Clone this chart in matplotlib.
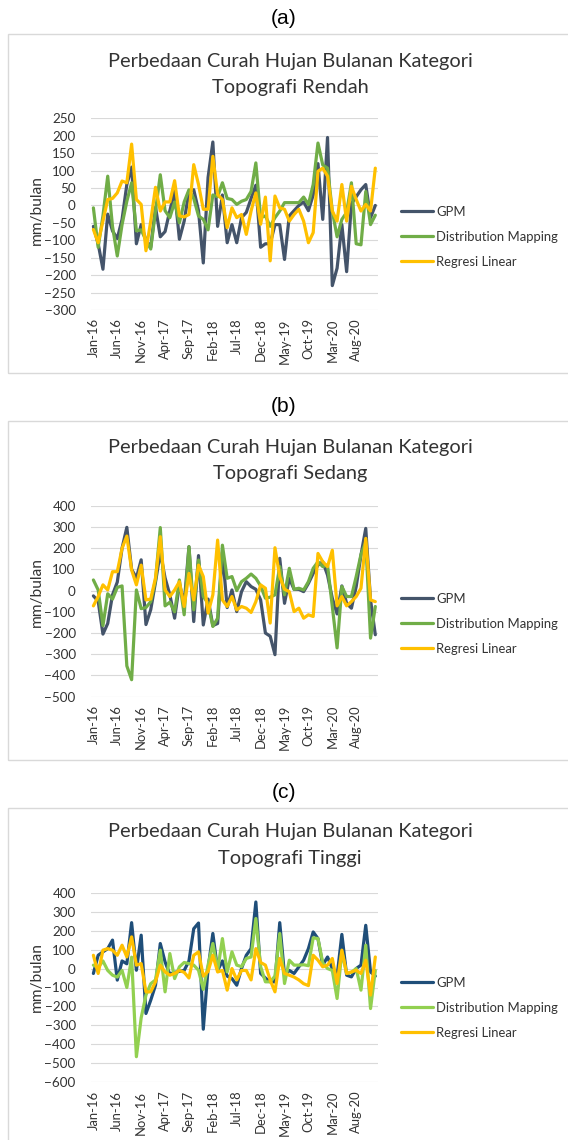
import numpy as np
import matplotlib.pyplot as plt
from matplotlib.patches import Rectangle

# months Jan-16 .. Dec-20
months = ['Jan', 'Feb', 'Mar', 'Apr', 'May', 'Jun', 'Jul', 'Aug', 'Sep', 'Oct', 'Nov', 'Dec']
categories = [m + '-' + y for y in ['16', '17', '18', '19', '20'] for m in months]
tick_labels = ['Jan-16', 'Jun-16', 'Nov-16', 'Apr-17', 'Sep-17', 'Feb-18',
               'Jul-18', 'Dec-18', 'May-19', 'Oct-19', 'Mar-20', 'Aug-20']

# (a) Topografi Rendah
gpm_a = [-60, -110, -183, -25, -73, -95, -40, 60, 110, -110, -55, -100, -120, -5, -90, -75, -15, 40, -97, -45,
         40, 45, -15, -165, 80, 182, -60, 30, -107, -55, -107, -35, -20, 20, 58, -120, -110, -110, -55, -55,
         -155, -30, -15, 0, 10, -15, 30, 120, -40, 195, -230, -180, -55, -190, 5, 25, 45, 60, -35, 0]
dm_a = [-7, -120, -30, 84, -60, -145, -55, 12, 65, -73, -70, -100, -125, -16, 88, -15, -35, 10, -50, 10,
        45, 20, -30, -40, -70, 30, 25, 65, 20, 17, 3, 12, 17, 40, 122, -35, -30, -60, -35, -16,
        8, 8, 8, 8, 24, 3, 60, 179, 116, 107, -16, -90, -40, -20, 65, -110, -113, 40, -55, -28]
rl_a = [-69, -107, -45, 17, 20, 36, 70, 65, 176, 17, 3, -130, -45, 52, -16, 10, 10, 71, -30, -33,
        -26, 117, 60, -11, -11, 141, 31, 17, -64, -7, -35, -26, -83, -16, 36, -54, 24, -159, 27, -7,
        -11, -45, -26, -11, -45, -107, -78, 98, 107, 84, -16, -45, 60, -45, 55, 17, -16, 3, -16, 107]

# (b) Topografi Sedang
gpm_b = [-25, -50, -205, -155, -20, 40, 200, 298, 100, 60, 145, -160, -90, 40, 180, 60, -20, -130, 30, -60,
         207, -146, 165, -162, -40, -165, -155, 180, -80, 3, -99, -5, 42, 19, 6, -44, -200, -215, -302, 152,
         -60, 58, 6, 6, -5, 34, 81, 120, 136, 73, -36, -110, 22, -60, -83, 19, 167, 293, -44, -208]
dm_b = [50, 3, -165, -15, -40, 15, 22, -355, -420, 3, -85, -80, -52, 50, 297, -72, -55, -100, 50, -114,
        207, -91, 144, -28, -60, -169, -130, 214, 58, 66, 0, 42, 58, 78, 58, 22, -36, -31, -20, 113,
        -20, 105, 6, 11, 3, 42, 105, 136, 113, 120, -75, -270, 19, -28, -28, 66, 170, 230, -224, -75]
rl_b = [-72, -28, 27, 3, 89, 89, 199, 257, 97, 27, 120, -44, -40, 60, 254, 3, -28, 3, 42, -75,
        81, -44, 120, 66, -106, -20, 238, -44, -75, -28, -91, -75, -83, -103, -52, 27, 11, -153, 202, 66,
        6, -5, -99, -83, -130, -114, -122, 175, 136, 113, 190, -72, -28, -72, -52, -28, 11, 246, -44, -52]

# (c) Topografi Tinggi
gpm_c = [-26, 70, 88, 105, 150, -61, 40, 25, 242, -9, 176, -237, -167, -88, 132, 35, -30, -20, -15, -10,
         40, 210, 240, -320, 0, 185, -10, 40, -40, -53, -88, 0, 70, 105, 351, -26, -50, -70, -70, 242,
         -35, -10, -26, 9, 44, 105, 193, 158, 18, 61, 0, -40, 180, -35, -44, 0, 18, 228, -18, -40]
dm_c = [18, 5, 40, -10, -35, -45, -10, -100, 60, -465, -260, -140, -80, -60, 97, -123, 79, -53, 9, 32,
        26, 18, -9, -110, 18, 132, -10, 158, -18, 88, 18, 10, 53, 61, 264, 10, -70, -70, -40, 185,
        -79, 44, 18, 18, 20, 15, 162, 158, 30, 0, -10, -158, 88, -26, -20, 0, -114, 123, -211, -10]
rl_c = [70, -26, 97, 105, 97, 70, 123, 61, 167, 18, 26, -123, -123, -70, 18, -18, -35, -26, -10, -20,
        -50, 70, 88, -40, -15, 70, -18, -10, -114, 0, -60, -10, -10, -60, 105, 32, 18, -61, -123, 53,
        -26, -35, -45, -60, -80, -90, 70, 44, 9, 18, 53, -79, 97, -26, -18, -9, -26, 44, -140, 61]

series_names = ['GPM', 'Distribution Mapping', 'Regresi Linear']
title_lines = [('Perbedaan Curah Hujan Bulanan Kategori', 'Topografi Rendah'),
               ('Perbedaan Curah Hujan Bulanan Kategori', 'Topografi Sedang'),
               ('Perbedaan Curah Hujan Bulanan Kategori', 'Topografi Tinggi')]
letters = ['(a)', '(b)', '(c)']

W, H = 568, 1140
PT = 72 / 100  # px -> pt at dpi 100

fig = plt.figure(figsize=(W / 100, H / 100), dpi=100)

def fx(px):
    return px / W

def fy(py):
    return 1 - py / H

# layout per panel (pixel coordinates, from top)
panels = [
    dict(data=[gpm_a, dm_a, rl_a], colors=['#44546A', '#70AD47', '#FFC000'],
         ylim=(-300, 250), step=50, top=118.3, bot=310.0, box=(7.5, 33.5, 373),
         letter_y=18, title_y=61, ylab_y=210, leg_y=237),
    dict(data=[gpm_b, dm_b, rl_b], colors=['#44546A', '#70AD47', '#FFC000'],
         ylim=(-500, 400), step=100, top=505.7, bot=696.7, box=(7.5, 421, 760),
         letter_y=406, title_y=447, ylab_y=592, leg_y=624),
    dict(data=[gpm_c, dm_c, rl_c], colors=['#1F4E79', '#92D050', '#FFC000'],
         ylim=(-600, 400), step=100, top=892.7, bot=1082.3, box=(7.5, 808, 1145),
         letter_y=793, title_y=832, ylab_y=977, leg_y=1008),
]

x = np.arange(len(categories))
left_px, right_px = 91, 377.7

for k, p in enumerate(panels):
    # panel frame
    bx, btop, bbot = p['box']
    fig.patches.append(Rectangle((fx(bx), fy(bbot)), fx(W + 10 - bx), (bbot - btop) / H,
                                 transform=fig.transFigure, fill=False,
                                 edgecolor='#D9D9D9', linewidth=1.0))
    fig.text(fx(284), fy(p['letter_y']), letters[k], ha='center', va='center',
             fontsize=21 * PT, family='Liberation Sans', color='black')
    l1, l2 = title_lines[k]
    fig.text(fx(290), fy(p['title_y']), l1, ha='center', va='center',
             fontsize=20 * PT, family='Lato', color='#333333')
    fig.text(fx(290), fy(p['title_y'] + 26.5), l2, ha='center', va='center',
             fontsize=20 * PT, family='Lato', color='#333333')

    ax = fig.add_axes([fx(left_px), fy(p['bot']), fx(right_px - left_px),
                       (p['bot'] - p['top']) / H])
    lines = []
    for s, vals in enumerate(p['data']):
        ln, = ax.plot(x, vals, color=p['colors'][s], lw=2.3, label=series_names[s],
                      solid_joinstyle='round', solid_capstyle='round', zorder=3 + s)
        lines.append(ln)
    ax.set_xlim(-0.5, len(categories) - 0.5)
    ax.set_ylim(*p['ylim'])
    ax.set_yticks(np.arange(p['ylim'][0], p['ylim'][1] + 1, p['step']))
    ax.set_xticks(x[::5])
    ax.set_xticklabels(tick_labels, rotation=90, fontsize=13 * PT, family='Lato', color='#333333')
    ax.tick_params(axis='x', length=0, pad=6)
    ax.tick_params(axis='y', length=0, pad=11, labelsize=13.5 * PT, labelcolor='#333333')
    for lab in ax.get_yticklabels():
        lab.set_family('Lato')
    ax.grid(axis='y', color='#D9D9D9', lw=0.8, zorder=0)
    ax.set_axisbelow(True)
    for sp in ax.spines.values():
        sp.set_visible(False)
    ax.set_facecolor('none')

    fig.text(fx(37), fy(p['ylab_y']), 'mm/bulan', rotation=90, ha='center', va='center',
             fontsize=15.5 * PT, family='Lato', color='#333333')

    ax.legend(handles=lines, loc='center left', bbox_to_anchor=(fx(401), fy(p['leg_y'])),
              bbox_transform=fig.transFigure, frameon=False, borderpad=0, borderaxespad=0,
              handlelength=2.45, handletextpad=0.25, labelspacing=1.0,
              prop={'family': 'Lato', 'size': 13 * PT}, labelcolor='#333333')

fig.savefig('out.png', dpi=100, facecolor='white')
